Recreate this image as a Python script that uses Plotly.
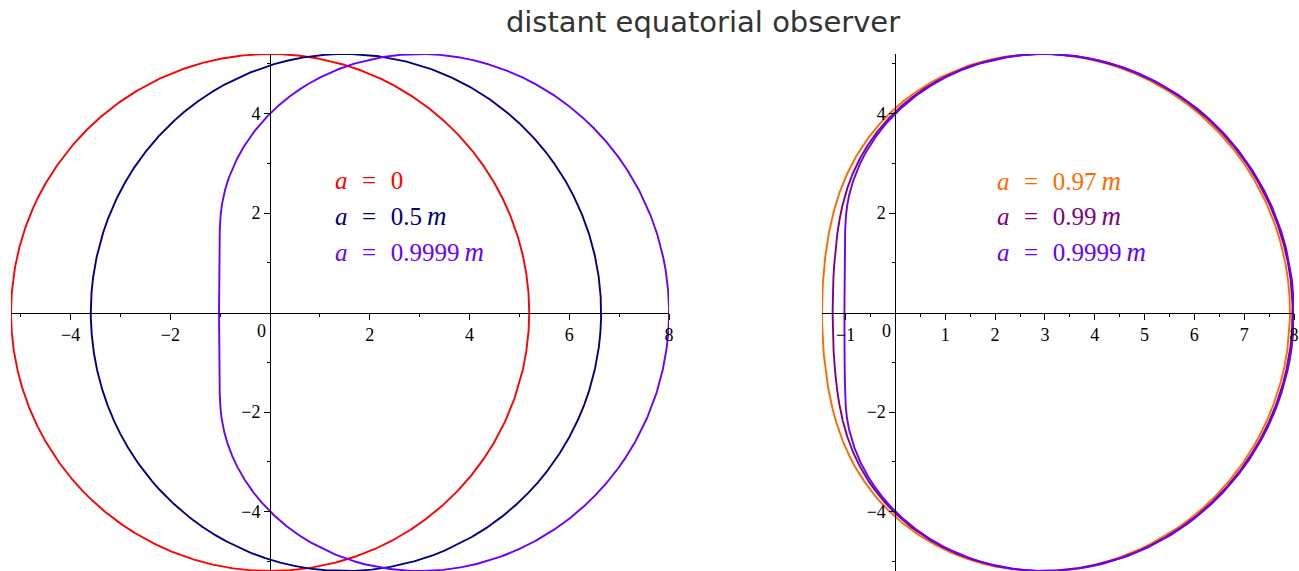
import numpy as np
import plotly.graph_objects as go

# Spin parameters (in units of the mass m) and their styling
spins_left = [0.0, 0.5, 0.9999]
colors_left = ["#ff0000", "#000080", "#6a00ff"]
labels_left = ["0", "0.5", "0.9999"]

spins_right = [0.97, 0.99, 0.9999]
colors_right = ["#ff6a00", "#800080", "#6a00ff"]
labels_right = ["0.97", "0.99", "0.9999"]

# Tick positions
left_x_major = [-4, -2, 2, 4, 6, 8]
left_x_minor = [-5, -3, -1, 1, 3, 5, 7]
right_x_major = [-1, 1, 2, 3, 4, 5, 6, 7, 8]
right_x_minor = [-0.5, 0.5, 1.5, 2.5, 3.5, 4.5, 5.5, 6.5, 7.5]
y_major = [-4, -2, 2, 4]
y_minor = [-5, -3, -1, 1, 3, 5]


def shadow(a, n=3000):
    """Shadow rim of a Kerr black hole (m = 1) seen by a distant equatorial observer."""
    if a == 0:
        phi = np.linspace(0, 2 * np.pi, 2 * n)
        rad = 3 * np.sqrt(3)
        return rad * np.cos(phi), rad * np.sin(phi)
    # prograde / retrograde circular photon orbit radii
    r1 = 2 * (1 + np.cos(2 / 3 * np.arccos(-a)))
    r2 = 2 * (1 + np.cos(2 / 3 * np.arccos(a)))
    r = np.unique(np.concatenate([
        np.linspace(r1, r2, n),
        r1 + (r2 - r1) * np.geomspace(1e-8, 1, n),
        r2 - (r2 - r1) * np.geomspace(1e-8, 1, n),
    ]))
    xi = -(r**3 - 3 * r**2 + a * a * r + a * a) / (a * (r - 1))
    eta = r**3 * (4 * a * a - r * (r - 3) ** 2) / (a * a * (r - 1) ** 2)
    beta = np.sqrt(np.clip(eta, 0, None))
    alpha = -xi + a
    x = np.concatenate([alpha, alpha[::-1], alpha[:1]])
    y = np.concatenate([beta, -beta[::-1], beta[:1]])
    return x, y


curves_left = [shadow(a) for a in spins_left]
curves_right = [shadow(a) for a in spins_right]

W, H = 1299, 571
ML, MR, MT, MB = 11, 5, 54, 0
dom_left = [0.0, 0.5129]
dom_right = [0.6321, 1.0]

ymax = max(np.abs(c[1]).max() for c in curves_left + curves_right)
yr = [-ymax, ymax]
xr_left = [min(c[0].min() for c in curves_left), max(c[0].max() for c in curves_left)]
xr_right = [min(c[0].min() for c in curves_right), max(c[0].max() for c in curves_right)]

fig = go.Figure()
for (x, y), col in zip(curves_left, colors_left):
    fig.add_trace(go.Scatter(x=x, y=y, mode="lines", line=dict(color=col, width=1.9),
                             xaxis="x", yaxis="y", showlegend=False, hoverinfo="skip"))
for (x, y), col in zip(curves_right, colors_right):
    fig.add_trace(go.Scatter(x=x, y=y, mode="lines", line=dict(color=col, width=1.9),
                             xaxis="x2", yaxis="y2", showlegend=False, hoverinfo="skip"))

tick_font = dict(family="Liberation Serif, Times New Roman, serif", size=18, color="black")


def frac(v, rng):
    return (v - rng[0]) / (rng[1] - rng[0])


def xaxis_cfg(dom, rng, major, minor, y_rng):
    return dict(domain=dom, range=rng, anchor="free", position=frac(0, y_rng),
                showgrid=False, zeroline=False, showline=True, linecolor="black", linewidth=1,
                tickmode="array", tickvals=major, ticks="outside", ticklen=6, tickcolor="black",
                tickfont=tick_font,
                minor=dict(tickmode="array", tickvals=minor, ticks="outside", ticklen=3,
                           tickcolor="black", showgrid=False))


def yaxis_cfg(dom_x, x_rng, major, minor):
    pos = dom_x[0] + (dom_x[1] - dom_x[0]) * frac(0, x_rng)
    return dict(domain=[0, 1], range=yr, anchor="free", position=pos,
                showgrid=False, zeroline=False, showline=True, linecolor="black", linewidth=1,
                tickmode="array", tickvals=major, ticks="outside", ticklen=6, tickcolor="black",
                tickfont=tick_font,
                minor=dict(tickmode="array", tickvals=minor, ticks="outside", ticklen=3,
                           tickcolor="black", showgrid=False))


label_font = "Liberation Serif, Times New Roman, serif"
eq = "\u2002\u200a=\u200a\u2002"
m_sym = "\u2009<i><span style=\"font-size:27px\">m</span></i>"
annotations = []
for i, (lab, col) in enumerate(zip(labels_left, colors_left)):
    txt = f"<i>a</i>{eq}{lab}" + ("" if lab == "0" else m_sym)
    annotations.append(dict(x=1.26, y=2.65 - 0.72 * i, xref="x", yref="y", text=txt,
                            showarrow=False, xanchor="left", yanchor="middle",
                            font=dict(family=label_font, size=25, color=col)))
for i, (lab, col) in enumerate(zip(labels_right, colors_right)):
    txt = f"<i>a</i>{eq}{lab}{m_sym}"
    annotations.append(dict(x=2.0, y=2.65 - 0.72 * i, xref="x2", yref="y2", text=txt,
                            showarrow=False, xanchor="left", yanchor="middle",
                            font=dict(family=label_font, size=25, color=col)))
for xref, yref in [("x", "y"), ("x2", "y2")]:
    annotations.append(dict(x=0, y=0, xref=xref, yref=yref, text="0", showarrow=False,
                            xanchor="right", yanchor="top", xshift=-2, yshift=-6,
                            font=tick_font))

fig.update_layout(
    width=W, height=H,
    margin=dict(l=ML, r=MR, t=MT, b=MB),
    paper_bgcolor="white", plot_bgcolor="white",
    title=dict(text="distant equatorial observer", x=703 / W, xanchor="center",
               y=1 - 22 / H, yanchor="middle", yref="container", xref="container",
               font=dict(family="DejaVu Sans, sans-serif", size=29, color="#333333")),
    xaxis=xaxis_cfg(dom_left, xr_left, left_x_major, left_x_minor, yr),
    yaxis=yaxis_cfg(dom_left, xr_left, y_major, y_minor),
    xaxis2=xaxis_cfg(dom_right, xr_right, right_x_major, right_x_minor, yr),
    yaxis2=yaxis_cfg(dom_right, xr_right, y_major, y_minor),
    annotations=annotations,
)

fig.write_html("out.html")
